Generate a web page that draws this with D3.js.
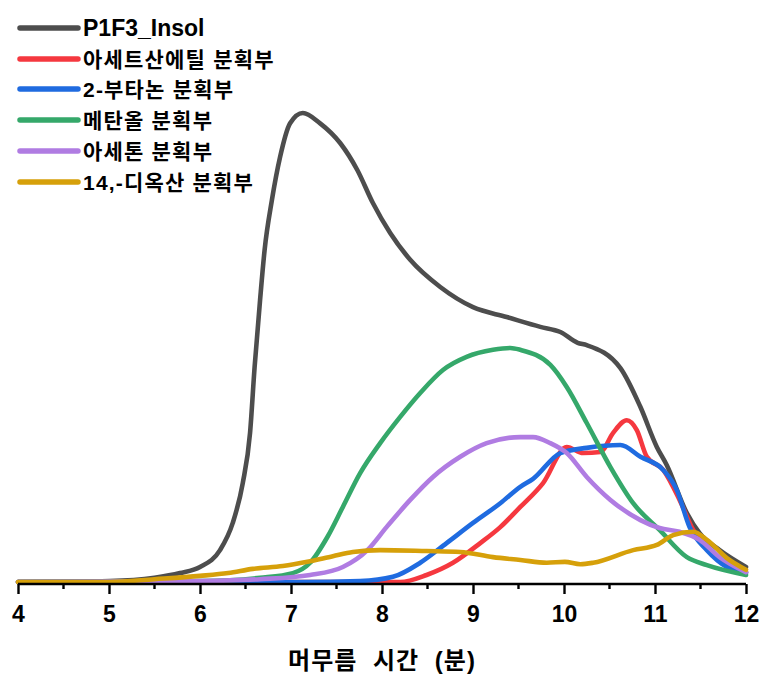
<!DOCTYPE html>
<html>
<head>
<meta charset="utf-8">
<script src="https://cdn.jsdelivr.net/npm/d3@7"></script>
<style>
  html, body { margin: 0; padding: 0; background: #fff; }
  svg { display: block; }
  text { font-family: "Liberation Sans", Arial, "Noto Sans CJK KR", sans-serif; font-weight: bold; fill: #000; }
</style>
</head>
<body>
<svg id="chart" width="774" height="686"></svg>
<script>
// ---- Data (retention time in minutes, relative intensity) ----
const seriesNames = ["P1F3_Insol", "아세트산에틸 분획부", "2-부타논 분획부", "메탄올 분획부", "아세톤 분획부", "14,-디옥산 분획부"];
const seriesColors = ["#4d4d4d", "#f5383f", "#1f6be0", "#35a86a", "#b07ce2", "#d6a00a"];

const p1f3T = [4, 5.01, 5.5, 5.78, 6.0, 6.22, 6.36, 6.47, 6.55, 6.60, 6.66, 6.71, 6.79, 6.88, 6.99, 7.13, 7.32, 7.54, 7.73, 7.90, 8.09, 8.31, 8.64, 9.0, 9.37, 9.74, 9.96, 10.15, 10.25, 10.62, 10.84, 11.02, 11.13, 11.35, 11.49, 11.71, 12.0];
const p1f3V = [0, 0.2, 0.9, 1.9, 3.2, 6.8, 12.6, 21.1, 31.8, 45.8, 60.1, 70.8, 81.4, 90.6, 97.8, 100, 97.8, 93.6, 87.8, 80.8, 74.4, 68.7, 62.9, 58.6, 56.5, 54.4, 53.3, 51.0, 50.5, 45.6, 37.3, 28.8, 24.9, 14.7, 10.4, 6.8, 3.2];

const ethylT = [4, 8.2, 8.49, 8.78, 9.08, 9.30, 9.52, 9.77, 10.03, 10.21, 10.40, 10.54, 10.69, 10.80, 10.91, 11.09, 11.27, 11.42, 11.64, 12.0];
const ethylV = [0, 0, 1.5, 4.1, 8.3, 11.7, 16.0, 21.1, 28.8, 27.5, 27.7, 31.8, 34.5, 32.4, 26.7, 23.9, 17.5, 11.1, 6.2, 2.1];

const butanoneT = [4, 7.1, 7.76, 8.12, 8.42, 8.71, 9.0, 9.30, 9.52, 9.66, 9.96, 10.25, 10.62, 10.84, 11.09, 11.24, 11.38, 11.57, 11.79, 12.0];
const butanoneV = [0, 0, 0.2, 1.1, 4.1, 8.3, 12.6, 16.8, 20.3, 22.0, 27.5, 28.6, 29.2, 26.7, 23.9, 19.6, 11.7, 6.8, 3.2, 1.9];

const methanolT = [4, 6.0, 6.66, 7.02, 7.21, 7.40, 7.57, 7.76, 7.98, 8.20, 8.42, 8.67, 8.93, 9.22, 9.41, 9.52, 9.85, 10.03, 10.25, 10.51, 10.76, 11.05, 11.35, 11.57, 12.0];
const methanolV = [0, 0.2, 0.9, 1.9, 4.1, 9.6, 16.0, 23.2, 29.6, 35.2, 40.3, 45.2, 48.0, 49.5, 49.9, 49.5, 46.3, 41.6, 33.9, 24.5, 16.8, 11.1, 5.3, 3.6, 1.5];

const acetoneT = [4, 6.0, 6.66, 7.21, 7.57, 7.84, 8.05, 8.31, 8.56, 8.86, 9.15, 9.52, 9.66, 9.85, 10.03, 10.25, 10.51, 10.84, 11.05, 11.27, 11.49, 11.71, 12.0];
const acetoneV = [0, 0.2, 0.6, 1.5, 3.2, 6.8, 11.7, 17.5, 22.4, 26.7, 29.6, 30.9, 30.9, 29.6, 27.5, 22.4, 17.5, 13.2, 11.5, 10.7, 9.0, 5.3, 2.1];

const dioxaneT = [4, 5.01, 5.5, 6.0, 6.31, 6.58, 6.91, 7.18, 7.46, 7.68, 7.98, 8.49, 8.86, 9.22, 9.52, 9.81, 10.01, 10.18, 10.32, 10.76, 11.02, 11.2, 11.42, 11.57, 11.79, 12.0];
const dioxaneV = [0, 0, 0.6, 1.3, 1.9, 2.8, 3.4, 4.3, 5.5, 6.4, 6.8, 6.6, 6.4, 5.3, 4.7, 4.1, 4.3, 3.8, 4.1, 6.8, 7.9, 10.0, 10.7, 9.0, 5.1, 2.6];

const xTicks = [4, 5, 6, 7, 8, 9, 10, 11, 12];
const xMinorTicks = [4.5, 5.5, 6.5, 7.5, 8.5, 9.5, 10.5, 11.5];
const xTitle = "머무름 시간 (분)";

const seriesT = [p1f3T, ethylT, butanoneT, methanolT, acetoneT, dioxaneT];
const seriesV = [p1f3V, ethylV, butanoneV, methanolV, acetoneV, dioxaneV];

// ---- Layout ----
const svg = d3.select("#chart");
const x = d3.scaleLinear().domain([4, 12]).range([18, 746]);
const y = d3.scaleLinear().domain([0, 100]).range([582, 113]);
const axisY = 584;

// Curves
const line = d3.line().x(d => x(d[0])).y(d => y(d[1])).curve(d3.curveMonotoneX);
seriesNames.forEach((name, i) => {
  const pts = seriesT[i].map((t, j) => [t, seriesV[i][j]]);
  svg.append("path")
    .attr("d", line(pts))
    .attr("fill", "none")
    .attr("stroke", seriesColors[i])
    .attr("stroke-width", 4.6)
    .attr("stroke-linejoin", "round")
    .attr("stroke-linecap", "round");
});

// X axis
const axis = d3.axisBottom(x).tickValues(xTicks).tickSize(10).tickPadding(12).tickFormat(d3.format("d"));
const gx = svg.append("g").attr("transform", `translate(0,${axisY})`).call(axis);
gx.select(".domain").attr("stroke", "#000").attr("stroke-width", 2.4).attr("d", `M${x(4)},0H${x(12)}`);
gx.selectAll(".tick line").attr("stroke", "#000").attr("stroke-width", 2.4);
gx.selectAll(".tick text").attr("font-size", 23).attr("font-weight", "bold").attr("fill", "#000")
  .attr("font-family", "'Liberation Sans', Arial, sans-serif");
gx.selectAll(".minor").data(xMinorTicks).enter().append("line")
  .attr("class", "minor")
  .attr("x1", d => x(d)).attr("x2", d => x(d))
  .attr("y1", 0).attr("y2", 5)
  .attr("stroke", "#000").attr("stroke-width", 2.4);

svg.append("text")
  .attr("x", (x(4) + x(12)) / 2)
  .attr("y", 669)
  .attr("text-anchor", "middle")
  .attr("font-size", 24)
  .attr("letter-spacing", 1)
  .attr("word-spacing", 8)
  .text(xTitle);

// Legend
const legendY = [28, 59, 89, 120, 151, 182];
const lg = svg.append("g");
seriesNames.forEach((name, i) => {
  lg.append("line")
    .attr("x1", 20).attr("x2", 78)
    .attr("y1", legendY[i]).attr("y2", legendY[i])
    .attr("stroke", seriesColors[i])
    .attr("stroke-width", 5.5)
    .attr("stroke-linecap", "round");
  lg.append("text")
    .attr("x", 83)
    .attr("y", legendY[i])
    .attr("dy", i === 0 ? "0.36em" : "0.38em")
    .attr("font-size", i === 0 ? 23 : 21)
    .attr("letter-spacing", i === 0 ? 0 : 1.2)
    .text(name);
});
</script>
</body>
</html>
